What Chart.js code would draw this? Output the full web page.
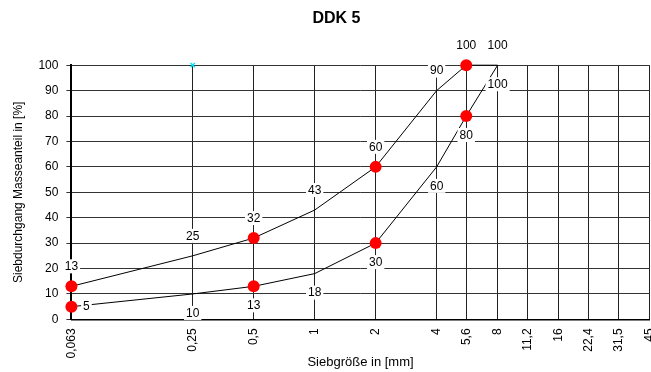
<!DOCTYPE html>
<html><head><meta charset="utf-8">
<script src="https://cdn.jsdelivr.net/npm/chart.js@4/dist/chart.umd.min.js"></script>
<style>html,body{margin:0;padding:0;background:#fff;overflow:hidden}#wrap{width:673px;height:372px}</style>
</head><body><div id="wrap"><canvas id="c"></canvas></div>
<script>
const sieveSizes = [0.063, 0.25, 0.5, 1, 2, 4, 5.6, 8, 11.2, 16, 22.4, 31.5, 45];
const upperX = [0.063, 0.25, 0.5, 1, 2, 4, 5.6, 8];
const upperY = [13, 25, 32, 43, 60, 90, 100, 100];
const lowerX = [0.063, 0.25, 0.5, 1, 2, 4, 5.6, 8];
const lowerY = [5, 10, 13, 18, 30, 60, 80, 100];
const markedSieves = [0.063, 0.5, 2, 5.6];
const markerX = [0.25];
const markerY = [100];
const yTicks = [0,10,20,30,40,50,60,70,80,90,100];

const FONT = "'Liberation Sans', Arial, sans-serif";
const upperAlign = ['top','top','top','top','top','top','top','top'];
const lowerAlign = ['right','bottom','bottom','bottom','bottom','bottom','bottom','bottom'];

function pts(xs, ys){ return xs.map((x,i)=>({x:x, y:ys[i]})); }
function radii(xs){ return xs.map(x => markedSieves.includes(x) ? 6 : 0); }

const labelPlugin = {
  id: 'ptLabels',
  afterDatasetsDraw(chart){
    const ctx = chart.ctx;
    ctx.save();
    ctx.font = '12px ' + FONT;
    ctx.textAlign = 'center';
    ctx.textBaseline = 'middle';
    [[0, upperAlign],[1, lowerAlign]].forEach(([di, al]) => {
      const meta = chart.getDatasetMeta(di);
      const ds = chart.data.datasets[di];
      meta.data.forEach((el, i) => {
        const txt = String(ds.data[i].y);
        let x = el.x, y = el.y;
        if (al[i] === 'top') y -= 20;
        else if (al[i] === 'bottom') y += 19;
        else if (al[i] === 'right') x += 15;
        const w = ctx.measureText(txt).width + 4;
        ctx.fillStyle = '#fff';
        ctx.fillRect(x - w/2, y - 7, w, 14);
        ctx.fillStyle = '#000';
        ctx.fillText(txt, x, y + 0.5);
      });
    });
    ctx.restore();
  }
};

new Chart(document.getElementById('c'), {
  type: 'line',
  data: {
    datasets: [
      { data: pts(upperX, upperY), borderColor: '#000', borderWidth: 1, pointRadius: radii(upperX),
        pointBackgroundColor: '#ff0000', pointBorderColor: '#ff0000', pointBorderWidth: 0, tension: 0, clip: false },
      { data: pts(lowerX, lowerY), borderColor: '#000', borderWidth: 1, pointRadius: radii(lowerX),
        pointBackgroundColor: '#ff0000', pointBorderColor: '#ff0000', pointBorderWidth: 0, tension: 0, clip: false },
      { data: pts(markerX, markerY), showLine: false, pointStyle: 'crossRot', pointRadius: 3,
        pointBorderColor: '#00e5ff', pointBorderWidth: 1.5, clip: false }
    ]
  },
  options: {
    responsive: true, maintainAspectRatio: false, animation: false,
    layout: { padding: { left: 0, top: 0, right: 0, bottom: 0 } },
    plugins: {
      legend: { display: false }, tooltip: { enabled: false },
      title: { display: true, text: 'DDK 5', color: '#000', font: { family: FONT, size: 16, weight: 'bold' }, padding: { top: 9, bottom: 37 } }
    },
    scales: {
      x: {
        type: 'logarithmic', min: 0.063, max: 45,
        afterBuildTicks: s => { s.ticks = sieveSizes.map(v => ({ value: v })); },
        ticks: { autoSkip: false, minRotation: 90, maxRotation: 90, color: '#000', padding: 9,
          font: { family: FONT, size: 12 }, callback: v => String(v).replace('.', ',') },
        grid: { color: '#222', lineWidth: 1, drawTicks: false },
        border: { color: '#000', width: 1.5 },
        title: { display: true, text: 'Siebgröße in [mm]', color: '#000', font: { family: FONT, size: 13 }, padding: { top: -13, bottom: 2 } }
      },
      y: {
        min: 0, max: 100,
        afterBuildTicks: s => { s.ticks = yTicks.map(v => ({ value: v })); },
        ticks: { color: '#000', padding: 8, font: { family: FONT, size: 12 } },
        grid: { color: '#333', lineWidth: 1, tickLength: 5 },
        border: { color: '#000', width: 2 },
        title: { display: true, text: 'Siebdurchgang Masseanteil in [%]', color: '#000', font: { family: FONT, size: 12 }, padding: { top: 11, bottom: 5 } }
      }
    }
  },
  plugins: [labelPlugin]
});
</script></body></html>
